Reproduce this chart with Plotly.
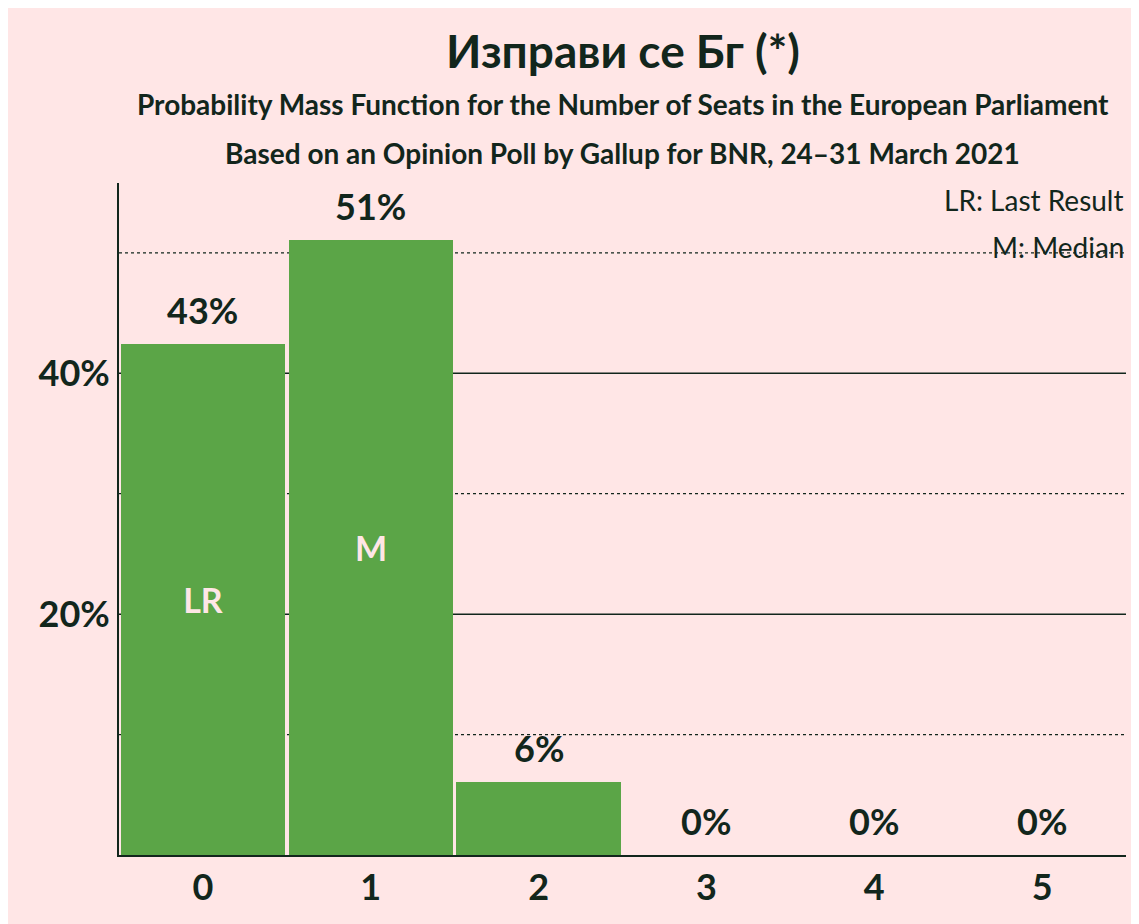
import plotly.graph_objects as go

seats = [0, 1, 2, 3, 4, 5]
probs = [42.4, 51.1, 6.05, 0, 0, 0]
labels = ["43%", "51%", "6%", "0%", "0%", "0%"]
inner = ["LR", "M", "", "", "", ""]

dark = "#12261c"
bg = "#FFE6E6"
green = "#5BA547"
font = "Lato"

fig = go.Figure()
fig.add_bar(x=seats, y=probs, width=0.98, marker=dict(color=green, line=dict(width=0)),
            text=inner, textposition="inside", insidetextanchor="middle",
            texttemplate="<b>%{text}</b>",
            textfont=dict(family=font, size=34, color="#FFE6E6"), cliponaxis=False)

for v, d in [(10, "dot"), (20, "solid"), (30, "dot"), (40, "solid"), (50, "dot")]:
    fig.add_shape(type="line", xref="paper", x0=0, x1=1, y0=v, y1=v, layer="below",
                  line=dict(color=dark, width=1.5 if d == "solid" else 1.2, dash=d))

for s, p, l in zip(seats, probs, labels):
    fig.add_annotation(x=s, y=p, text="<b>" + l + "</b>", showarrow=False, yshift=34, yanchor="middle",
                       font=dict(family=font, size=36, color=dark))

fig.add_annotation(xref="paper", yref="paper", x=1, y=1.0, text="LR: Last Result", showarrow=False,
                   xanchor="right", yanchor="middle", yshift=-17, font=dict(family=font, size=28, color=dark))
fig.add_annotation(xref="paper", yref="paper", x=1, y=1.0, text="M: Median", showarrow=False,
                   xanchor="right", yanchor="middle", yshift=-64, font=dict(family=font, size=28, color=dark))
fig.add_annotation(xref="paper", yref="paper", x=0.5, y=1, text="<b>Probability Mass Function for the Number of Seats in the European Parliament</b>",
                   showarrow=False, yshift=79, xanchor="center", yanchor="middle", font=dict(family=font, size=28, color=dark))
fig.add_annotation(xref="paper", yref="paper", x=0.5, y=1, text="<b>Based on an Opinion Poll by Gallup for BNR, 24–31 March 2021</b>",
                   showarrow=False, yshift=30, xanchor="center", yanchor="middle", font=dict(family=font, size=28, color=dark))
fig.add_annotation(xref="paper", yref="paper", x=1.0, y=1.0, xshift=12, yshift=173, text="© 2021 Filip van Laenen",
                   textangle=-90, showarrow=False, xanchor="center", yanchor="top", font=dict(family=font, size=10, color=dark))
fig.add_annotation(xref="paper", yref="paper", x=0.5, y=1.0, yshift=133, text="<b>Изправи се Бг (*)</b>",
                   showarrow=False, xanchor="center", yanchor="middle", font=dict(family=font, size=46, color=dark))

fig.update_layout(
    width=1131, height=916, paper_bgcolor=bg, plot_bgcolor=bg, showlegend=False,
    margin=dict(l=111, r=13, t=175, b=69), bargap=0,
    xaxis=dict(range=[-0.5, 5.5], tickvals=seats, ticktext=[f"<b>{s}</b>" for s in seats],
               showgrid=False, zeroline=False,
               showline=True, linecolor=dark, linewidth=2, ticks="",
               tickfont=dict(family=font, size=36, color=dark)),
    yaxis=dict(range=[0, 55.8], tickvals=[20, 40], ticktext=["<b>20%</b>", "<b>40%</b>"], showgrid=False,
               zeroline=False, showline=True, linecolor=dark, linewidth=2, ticks="",
               tickfont=dict(family=font, size=36, color=dark)),
)
fig.write_html("out.html")
